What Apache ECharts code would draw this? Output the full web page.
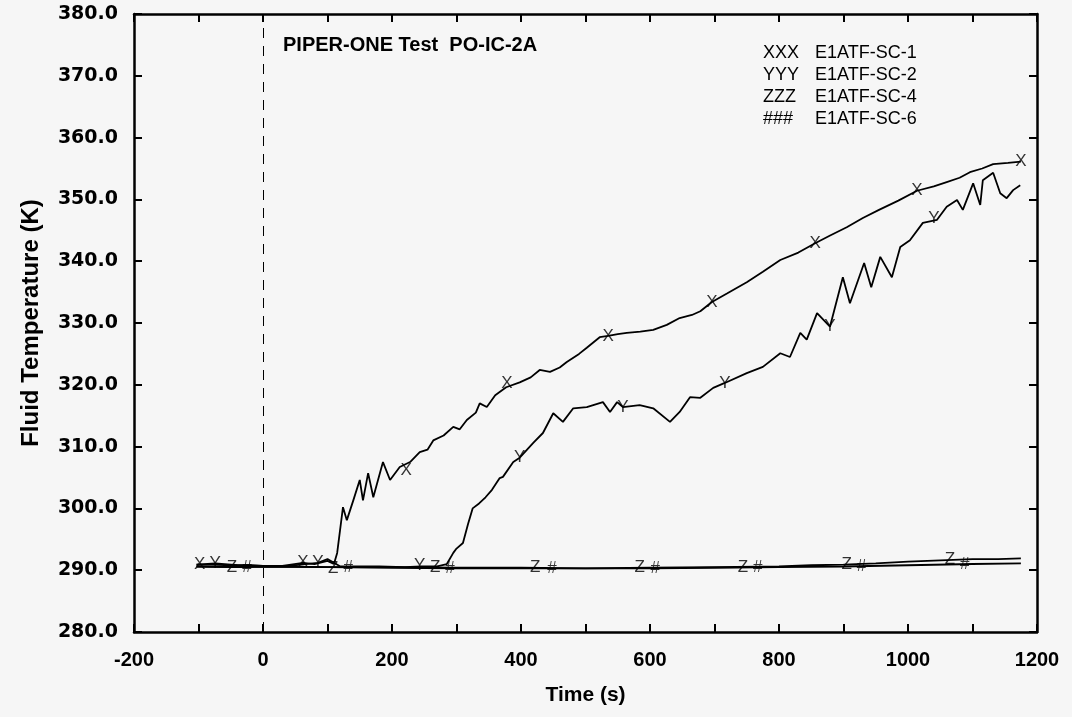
<!DOCTYPE html>
<html>
<head>
<meta charset="utf-8">
<script src="https://cdn.jsdelivr.net/npm/echarts@6/dist/echarts.min.js"></script>
<style>
html,body{margin:0;padding:0;background:#f6f6f6;}
#chart{width:1072px;height:717px;}
</style>
</head>
<body>
<div id="chart"></div>
<script>
// ---- Data ----
const xTicks = [-200, 0, 200, 400, 600, 800, 1000, 1200];
const yTicks = [280, 290, 300, 310, 320, 330, 340, 350, 360, 370, 380];

// E1ATF-SC-1 (XXX)
const tSC1 = [-103, -80, -50, -20, 0, 30, 62, 80, 100, 110, 115, 124, 130, 140, 150, 155, 163, 171, 186, 197, 212, 228, 243, 255, 264, 280, 295, 305, 316, 330, 336, 347, 360, 377, 398, 415, 429, 445, 460, 471, 490, 502, 522, 535, 550, 564, 585, 605, 626, 646, 665, 678, 696, 720, 750, 775, 802, 830, 856, 880, 905, 930, 955, 985, 1014, 1040, 1060, 1080, 1096, 1115, 1132, 1155, 1175];
const vSC1 = [290.9, 290.9, 290.8, 290.8, 290.7, 290.7, 291.2, 291.0, 291.5, 291.0, 292.8, 300.2, 298.1, 301.3, 304.6, 301.3, 305.7, 301.8, 307.5, 304.6, 306.7, 307.5, 309.1, 309.5, 311.0, 311.8, 313.2, 312.8, 314.3, 315.5, 317.0, 316.4, 318.3, 319.6, 320.4, 321.2, 322.4, 322.1, 322.8, 323.7, 325.0, 326.0, 327.7, 327.9, 328.2, 328.4, 328.6, 328.9, 329.7, 330.8, 331.3, 331.9, 333.4, 334.8, 336.6, 338.3, 340.2, 341.4, 342.9, 344.2, 345.5, 347.0, 348.3, 349.8, 351.4, 352.1, 352.8, 353.5, 354.4, 355.0, 355.7, 355.9, 356.1];

// E1ATF-SC-2 (YYY)
const tSC2 = [-103, -74, -40, 0, 40, 85, 100, 110, 120, 140, 180, 220, 245, 270, 285, 295, 300, 310, 318, 325, 335, 345, 355, 367, 372, 388, 398, 419, 434, 450, 465, 481, 502, 527, 538, 549, 558, 584, 605, 631, 646, 662, 678, 698, 716, 750, 775, 802, 817, 833, 843, 859, 879, 899, 910, 932, 943, 957, 975, 988, 1003, 1023, 1045, 1060, 1076, 1085, 1101, 1112, 1116, 1132, 1143, 1153, 1163, 1174];
const vSC2 = [290.9, 291.1, 290.8, 290.7, 290.7, 291.2, 291.8, 291.2, 290.6, 290.6, 290.6, 290.5, 290.6, 290.6, 291.0, 292.8, 293.5, 294.4, 297.5, 300.0, 300.8, 301.8, 303.0, 304.9, 305.1, 307.5, 308.2, 310.6, 312.2, 315.4, 314.0, 316.2, 316.4, 317.2, 315.6, 317.2, 316.4, 316.7, 316.2, 314.0, 315.6, 318.0, 317.9, 319.5, 320.3, 321.9, 322.9, 325.1, 324.5, 328.4, 327.3, 331.6, 329.4, 337.4, 333.2, 339.7, 335.8, 340.7, 337.4, 342.3, 343.4, 346.2, 346.7, 348.8, 349.9, 348.3, 352.6, 349.1, 353.1, 354.3, 351.0, 350.2, 351.5, 352.3];

// E1ATF-SC-4 (ZZZ)
const tSC4 = [-103, -50, 0, 100, 200, 300, 400, 500, 600, 700, 800, 850, 900, 950, 1000, 1050, 1100, 1140, 1175];
const vSC4 = [290.6, 290.5, 290.6, 290.5, 290.5, 290.4, 290.4, 290.3, 290.4, 290.5, 290.6, 290.8, 290.9, 291.1, 291.4, 291.6, 291.8, 291.8, 291.9];

// E1ATF-SC-6 (###)
const tSC6 = [-103, -25, 0, 100, 200, 300, 400, 500, 600, 700, 800, 900, 1000, 1100, 1175];
const vSC6 = [290.6, 290.5, 290.6, 290.5, 290.4, 290.3, 290.3, 290.3, 290.3, 290.4, 290.5, 290.6, 290.8, 291.0, 291.1];

// marker symbols placed along each curve
const mTSC1 = [-98, 62, 222, 378, 535, 696, 856, 1014, 1175];
const mVSC1 = [290.9, 291.2, 306.2, 320.2, 327.9, 333.4, 342.9, 351.4, 356.1];
const mTSC2 = [-74, 85, 243, 398, 558, 716, 879, 1040];
const mVSC2 = [291.1, 291.2, 290.8, 308.2, 316.4, 320.3, 329.4, 347.0];
const mTSC4 = [-48, 109, 267, 422, 584, 744, 905, 1065];
const mVSC4 = [290.5, 290.3, 290.5, 290.4, 290.5, 290.5, 290.9, 291.7];
const mTSC6 = [-25, 132, 290, 448, 608, 767, 928, 1088];
const mVSC6 = [290.5, 290.4, 290.3, 290.3, 290.3, 290.4, 290.7, 291.0];

const seriesNames = ['E1ATF-SC-1', 'E1ATF-SC-2', 'E1ATF-SC-4', 'E1ATF-SC-6'];
const markerChars = ['X', 'Y', 'Z', '#'];
const legendKeys = ['XXX', 'YYY', 'ZZZ', '###'];
const titleText = 'PIPER-ONE Test  PO-IC-2A';

// ---- Build ----
const zip = (a, b) => a.map((v, i) => [v, b[i]]);
const lines = [[tSC1, vSC1], [tSC2, vSC2], [tSC4, vSC4], [tSC6, vSC6]];
const marks = [[mTSC1, mVSC1], [mTSC2, mVSC2], [mTSC4, mVSC4], [mTSC6, mVSC6]];

const FONT = '"Liberation Sans", Arial, sans-serif';
const NARROW = '"Liberation Sans Narrow", "Liberation Sans", sans-serif';
const WIDE = '"DejaVu Sans", sans-serif';
const series = [];
lines.forEach((ln, i) => {
  const s = {
    name: seriesNames[i], type: 'line', data: zip(ln[0], ln[1]),
    showSymbol: false, symbol: 'none', smooth: false,
    lineStyle: { color: '#000', width: 1.8 }, silent: true, z: 3
  };
  if (i === 0) {
    s.markLine = {
      silent: true, symbol: 'none', label: { show: false },
      lineStyle: { color: '#000', width: 1, type: [10, 8] },
      data: [{ xAxis: 0 }]
    };
  }
  series.push(s);
});
marks.forEach((m, i) => {
  series.push({
    name: seriesNames[i] + ' marks', type: 'scatter', data: zip(m[0], m[1]),
    symbol: 'circle', symbolSize: 1, itemStyle: { color: 'rgba(0,0,0,0)' },
    label: { show: true, position: 'inside', formatter: markerChars[i],
      color: '#000', fontFamily: FONT, fontSize: 17, fontWeight: 'normal' },
    silent: true, z: 4
  });
});

const legendGraphics = [];
legendKeys.forEach((k, i) => {
  legendGraphics.push({ type: 'text', left: 763, top: 44 + i * 22,
    style: { text: k, fill: '#000', font: '18px ' + FONT } });
  legendGraphics.push({ type: 'text', left: 815, top: 44 + i * 22,
    style: { text: seriesNames[i], fill: '#000', font: '18px ' + FONT } });
});

const axLine = { show: true, onZero: false, lineStyle: { color: '#000', width: 2.5 } };
const tick = { show: true, inside: true, length: 8, lineStyle: { color: '#000', width: 2 } };

const chart = echarts.init(document.getElementById('chart'), null, { renderer: 'canvas' });
chart.setOption({
  backgroundColor: '#f6f6f6',
  animation: false,
  grid: { left: 134, right: 35, top: 14, bottom: 85 },
  xAxis: [{
    type: 'value', min: -200, max: 1200, interval: 100, position: 'bottom',
    axisLine: axLine, axisTick: tick, splitLine: { show: false },
    axisLabel: { margin: 18, color: '#000', fontFamily: NARROW, fontWeight: 'bold', fontSize: 20,
      formatter: v => (xTicks.indexOf(v) >= 0 ? String(v) : '') },
    name: 'Time (s)', nameLocation: 'middle', nameGap: 53,
    nameTextStyle: { color: '#000', fontFamily: FONT, fontWeight: 'bold', fontSize: 21 }
  }, {
    type: 'value', min: -200, max: 1200, interval: 100, position: 'top',
    axisLine: axLine, axisTick: tick, splitLine: { show: false }, axisLabel: { show: false }
  }],
  yAxis: [{
    type: 'value', min: 280, max: 380, interval: 10, position: 'left',
    axisLine: axLine, axisTick: tick, splitLine: { show: false },
    axisLabel: { margin: 16, color: '#000', fontFamily: WIDE, fontWeight: 'bold', fontSize: 19,
      formatter: v => (yTicks.indexOf(v) >= 0 ? v.toFixed(1) : '') },
    name: 'Fluid Temperature (K)', nameLocation: 'middle', nameGap: 91,
    nameTextStyle: { color: '#000', fontFamily: FONT, fontWeight: 'bold', fontSize: 24 }
  }, {
    type: 'value', min: 280, max: 380, interval: 10, position: 'right',
    axisLine: axLine, axisTick: tick, splitLine: { show: false }, axisLabel: { show: false }
  }],
  graphic: [{ type: 'text', left: 283, top: 35,
    style: { text: titleText, fill: '#000', font: 'bold 20px ' + FONT } }].concat(legendGraphics),
  series: series
});
</script>
</body>
</html>
